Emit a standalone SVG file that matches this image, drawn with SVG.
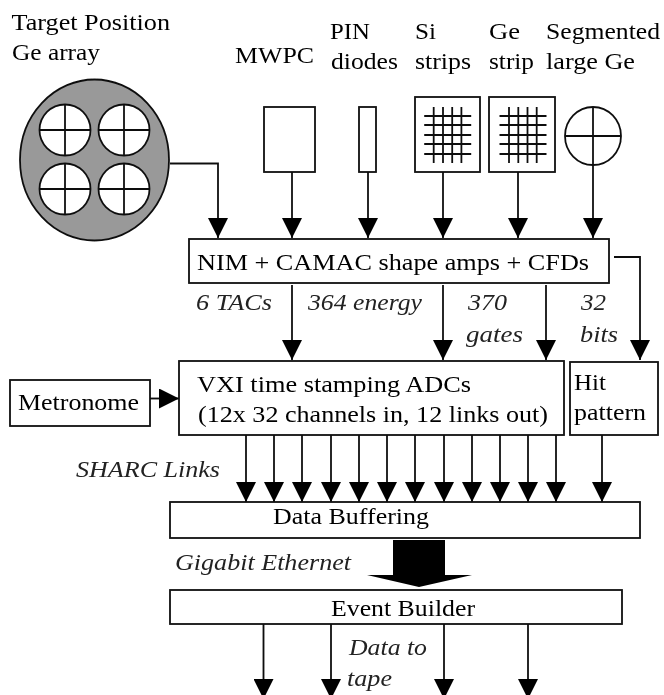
<svg xmlns="http://www.w3.org/2000/svg" width="664" height="695" viewBox="0 0 664 695">
<style>
.b{fill:#fff;stroke:#111;stroke-width:1.8}
.l{fill:none;stroke:#111;stroke-width:1.8}
.t{font-family:"Liberation Serif","Times New Roman",serif;font-size:23.5px;fill:#000}
.i{font-style:italic;fill:#222}
</style>
<defs>
<marker id="a" markerUnits="userSpaceOnUse" markerWidth="20" markerHeight="20" refX="20" refY="10" orient="auto" viewBox="0 0 20 20"><path d="M0 0L20 10L0 20Z" fill="#000"/></marker>
<filter id="s" filterUnits="userSpaceOnUse" x="0" y="0" width="664" height="695"><feGaussianBlur stdDeviation="0.4"/></filter>
<g id="c"><circle r="25.5" fill="#fff" stroke="#111" stroke-width="1.8"/><path class="l" d="M-26 0H26M0-26V26"/></g>
<g id="grid"><path class="l" d="M0 10V66M9.300 10V66M18.500 10V66M27.700 10V66M-9.500 19H37.500M-9.500 28H37.500M-9.500 38H37.500M-9.500 47H37.500M-9.500 57H37.500"/></g>
</defs>
<rect width="664" height="695" fill="#fff"/>
<g filter="url(#s)">
<g id="target-array">
<ellipse cx="94.500" cy="160" rx="74.500" ry="80.500" fill="#999" stroke="#111" stroke-width="1.800"/>
<use href="#c" x="65" y="130"/><use href="#c" x="124" y="130"/><use href="#c" x="65" y="189"/><use href="#c" x="124" y="189"/>
<text class="t" lengthAdjust="spacingAndGlyphs" x="11.500" y="30" textLength="158.500">Target Position</text>
<text class="t" lengthAdjust="spacingAndGlyphs" x="12" y="60" textLength="88">Ge array</text>
</g>
<g id="mwpc"><rect class="b" x="264" y="107" width="51" height="65"/><text class="t" lengthAdjust="spacingAndGlyphs" x="235" y="63" textLength="79">MWPC</text></g>
<g id="pin"><rect class="b" x="359" y="107" width="17" height="65"/><text class="t" lengthAdjust="spacingAndGlyphs" x="330" y="39" textLength="40">PIN</text><text class="t" lengthAdjust="spacingAndGlyphs" x="331" y="69" textLength="67">diodes</text></g>
<g id="si"><rect class="b" x="415" y="97" width="65" height="75"/><use href="#grid" x="433.700" y="97"/><text class="t" lengthAdjust="spacingAndGlyphs" x="415" y="39" textLength="21">Si</text><text class="t" lengthAdjust="spacingAndGlyphs" x="415" y="69" textLength="56">strips</text></g>
<g id="ge"><rect class="b" x="489" y="97" width="66" height="75"/><use href="#grid" x="509" y="97"/><text class="t" lengthAdjust="spacingAndGlyphs" x="489" y="39" textLength="31">Ge</text><text class="t" lengthAdjust="spacingAndGlyphs" x="489" y="69" textLength="45">strip</text></g>
<g id="segmented"><ellipse cx="593" cy="136" rx="28" ry="29" fill="#fff" stroke="#111" stroke-width="1.800"/><path class="l" d="M565 136H621M593 107V165"/><text class="t" lengthAdjust="spacingAndGlyphs" x="546" y="39" textLength="114">Segmented</text><text class="t" lengthAdjust="spacingAndGlyphs" x="546" y="69" textLength="89">large Ge</text></g>
<g id="nim"><rect class="b" x="189" y="239" width="420" height="44"/><text class="t" lengthAdjust="spacingAndGlyphs" x="197" y="270" textLength="392">NIM + CAMAC shape amps + CFDs</text></g>
<g id="vxi"><rect class="b" x="179" y="361" width="385" height="74"/><text class="t" lengthAdjust="spacingAndGlyphs" x="197" y="392" textLength="274">VXI time stamping ADCs</text><text class="t" lengthAdjust="spacingAndGlyphs" x="198" y="422" textLength="350">(12x 32 channels in, 12 links out)</text></g>
<g id="hit"><rect class="b" x="570" y="362" width="88" height="73"/><text class="t" lengthAdjust="spacingAndGlyphs" x="574" y="390" textLength="32">Hit</text><text class="t" lengthAdjust="spacingAndGlyphs" x="574" y="420" textLength="72">pattern</text></g>
<g id="metronome"><rect class="b" x="10" y="380" width="140" height="46"/><text class="t" lengthAdjust="spacingAndGlyphs" x="18" y="410" textLength="121">Metronome</text></g>
<g id="buffer"><rect class="b" x="170" y="502" width="470" height="36"/><text class="t" lengthAdjust="spacingAndGlyphs" x="273" y="524" textLength="156">Data Buffering</text></g>
<g id="builder"><rect class="b" x="170" y="590" width="452" height="34"/><text class="t" lengthAdjust="spacingAndGlyphs" x="331" y="616" textLength="144">Event Builder</text></g>
<g id="labels">
<text class="t i" lengthAdjust="spacingAndGlyphs" x="196" y="310" textLength="76">6 TACs</text>
<text class="t i" lengthAdjust="spacingAndGlyphs" x="308" y="310" textLength="114">364 energy</text>
<text class="t i" lengthAdjust="spacingAndGlyphs" x="468" y="310" textLength="39">370</text>
<text class="t i" lengthAdjust="spacingAndGlyphs" x="466" y="342" textLength="57">gates</text>
<text class="t i" lengthAdjust="spacingAndGlyphs" x="581" y="310" textLength="25">32</text>
<text class="t i" lengthAdjust="spacingAndGlyphs" x="580" y="342" textLength="38">bits</text>
<text class="t i" lengthAdjust="spacingAndGlyphs" x="76" y="477" textLength="144">SHARC Links</text>
<text class="t i" lengthAdjust="spacingAndGlyphs" x="175" y="570" textLength="176">Gigabit Ethernet</text>
<text class="t i" lengthAdjust="spacingAndGlyphs" x="349" y="655" textLength="78">Data to</text>
<text class="t i" lengthAdjust="spacingAndGlyphs" x="347" y="686" textLength="45">tape</text>
</g>
<g id="connectors">
<path class="l" marker-end="url(#a)" d="M170 163.500H218V238"/>
<path class="l" marker-end="url(#a)" d="M292 172V238"/>
<path class="l" marker-end="url(#a)" d="M368 172V238"/>
<path class="l" marker-end="url(#a)" d="M443 172V238"/>
<path class="l" marker-end="url(#a)" d="M518 172V238"/>
<path class="l" marker-end="url(#a)" d="M593 165V238"/>
<path class="l" marker-end="url(#a)" d="M614 257H640V360"/>
<path class="l" marker-end="url(#a)" d="M292 285V360"/>
<path class="l" marker-end="url(#a)" d="M443 285V360"/>
<path class="l" marker-end="url(#a)" d="M546 285V360"/>
<path class="l" marker-end="url(#a)" d="M150 398.500H179"/>
<path class="l" marker-end="url(#a)" d="M246 435V502"/>
<path class="l" marker-end="url(#a)" d="M274 435V502"/>
<path class="l" marker-end="url(#a)" d="M302 435V502"/>
<path class="l" marker-end="url(#a)" d="M331 435V502"/>
<path class="l" marker-end="url(#a)" d="M359 435V502"/>
<path class="l" marker-end="url(#a)" d="M387 435V502"/>
<path class="l" marker-end="url(#a)" d="M415 435V502"/>
<path class="l" marker-end="url(#a)" d="M444 435V502"/>
<path class="l" marker-end="url(#a)" d="M472 435V502"/>
<path class="l" marker-end="url(#a)" d="M500 435V502"/>
<path class="l" marker-end="url(#a)" d="M528 435V502"/>
<path class="l" marker-end="url(#a)" d="M556 435V502"/>
<path class="l" marker-end="url(#a)" d="M602 435V502"/>
<path class="l" marker-end="url(#a)" d="M263.500 624V699"/>
<path class="l" marker-end="url(#a)" d="M331 624V699"/>
<path class="l" marker-end="url(#a)" d="M444 624V699"/>
<path class="l" marker-end="url(#a)" d="M528 624V699"/>
<path d="M393 540H445V575H472L419 587L367 575H393Z" fill="#000"/>
</g>
</g>
</svg>
